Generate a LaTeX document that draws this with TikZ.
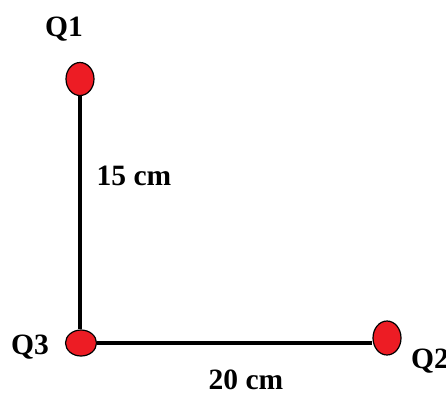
\documentclass[tikz,border=0pt]{standalone}
\usepackage{fontspec}
\setmainfont{Liberation Serif}
\usetikzlibrary{shapes.geometric}
\definecolor{paintred}{RGB}{237,28,36}
\begin{document}
\begin{tikzpicture}[x=1bp,y=-1bp,
  charge/.style={ellipse,draw=black,line width=1.2bp,fill=paintred,inner sep=0pt},
  lbl/.style={font=\fontsize{29.5bp}{31bp}\selectfont\bfseries,inner sep=0pt},
  rod/.style={line width=3.2bp,black}]
\useasboundingbox (0,0) rectangle (446,392);
\node[charge,minimum width=28bp,minimum height=33bp] (q1) at (80,79) {};
\node[charge,minimum width=31bp,minimum height=26bp] (q3) at (81,343) {};
\node[charge,minimum width=28bp,minimum height=34bp] (q2) at (387,338) {};
\draw[rod] (q1.south) -- (q1.south |- q3.north);
\draw[rod] (q3.east) -- (q3.east -| q2.west);
\node[lbl] (l1) at (64,29) {Q1};
\node[lbl] (l3) at (30,347) {Q3};
\node[lbl] (l2) at (430,361) {Q2};
\node[lbl] (d1) at (134,176) {15 cm};
\node[lbl] (d2) at (246,380) {20 cm};
\end{tikzpicture}
\end{document}
